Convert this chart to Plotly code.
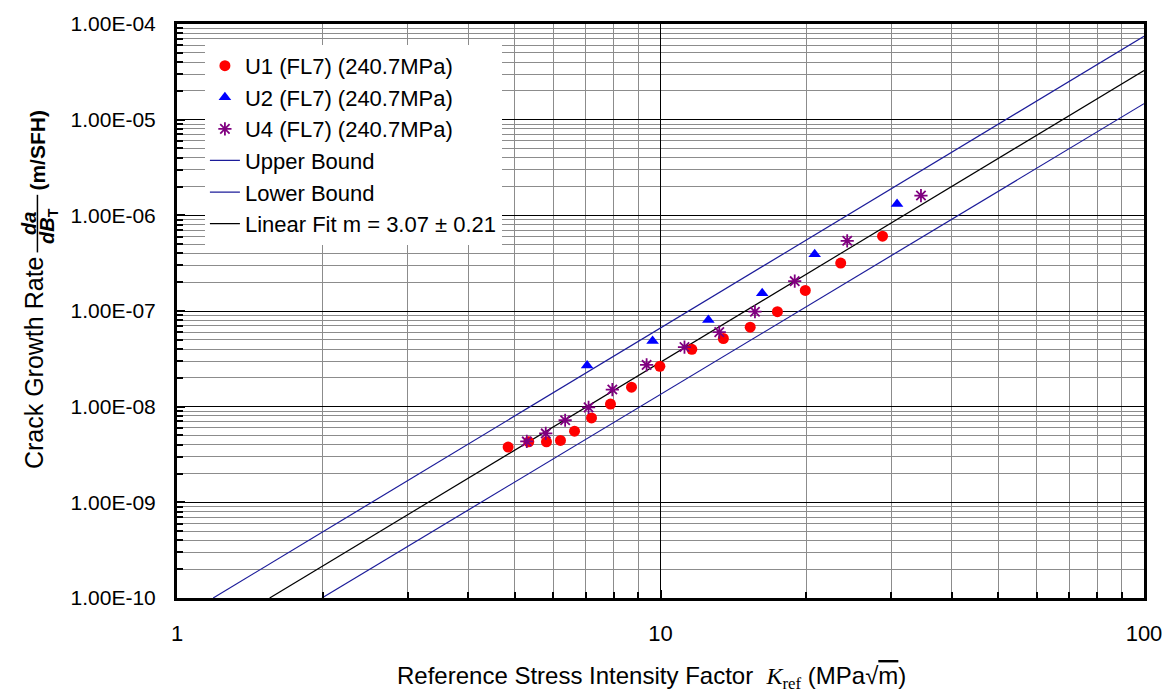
import plotly.graph_objects as go

# ---------------- data ----------------
u1_k = [4.84, 5.34, 5.81, 6.21, 6.64, 7.20, 7.88, 8.71, 9.97, 11.61, 13.49, 15.33, 17.45, 19.93, 23.59, 28.79]
u1_r = [3.78e-9, 4.29e-9, 4.29e-9, 4.44e-9, 5.54e-9, 7.62e-9, 1.065e-8, 1.60e-8, 2.64e-8, 3.98e-8,
        5.16e-8, 6.77e-8, 9.83e-8, 1.64e-7, 3.17e-7, 6.05e-7]

u2_k = [7.05, 9.63, 12.56, 16.23, 20.84, 30.85]
u2_r = [2.69e-8, 4.85e-8, 8.06e-8, 1.53e-7, 3.91e-7, 1.31e-6]

u4_k = [5.29, 5.79, 6.35, 7.10, 7.95, 9.36, 11.21, 13.23, 15.68, 18.95, 24.33, 34.57]
u4_r = [4.33e-9, 5.25e-9, 7.21e-9, 9.84e-9, 1.51e-8, 2.73e-8, 4.20e-8, 6.01e-8, 9.83e-8, 2.05e-7,
        5.42e-7, 1.61e-6]

upper_k = [1.188, 100]
upper_r = [1e-10, 7.45e-5]
lower_k = [1.994, 100]
lower_r = [1e-10, 1.47e-5]
fit_k = [1.555, 100]
fit_r = [1e-10, 3.27e-5]

series_names = ["U1 (FL7) (240.7MPa)", "U2 (FL7) (240.7MPa)", "U4 (FL7) (240.7MPa)",
                "Upper Bound", "Lower Bound", "Linear Fit m = 3.07 ± 0.21"]

x_tickvals = [1, 10, 100]
x_ticktext = ["1", "10", "100"]
y_tickvals = [1e-10, 1e-9, 1e-8, 1e-7, 1e-6, 1e-5, 1e-4]
y_ticktext = ["1.00E-10", "1.00E-09", "1.00E-08", "1.00E-07", "1.00E-06", "1.00E-05", "1.00E-04"]

x_minor = [m * d for d in (1, 10) for m in range(2, 10)]
y_minor = [m * 10.0 ** e for e in range(-10, -4) for m in range(2, 10)]

FONT = "Liberation Sans, Arial, sans-serif"
SERIF = "Liberation Serif, Times New Roman, serif"
BOUND = "#1c1c9a"

fig = go.Figure()

fig.add_trace(go.Scatter(x=upper_k, y=upper_r, mode="lines", name=series_names[3],
                         line=dict(color=BOUND, width=1.2), legendrank=4))
fig.add_trace(go.Scatter(x=lower_k, y=lower_r, mode="lines", name=series_names[4],
                         line=dict(color=BOUND, width=1.2), legendrank=5))
fig.add_trace(go.Scatter(x=fit_k, y=fit_r, mode="lines", name=series_names[5],
                         line=dict(color="#000000", width=1.2), legendrank=6))

fig.add_trace(go.Scatter(x=u1_k, y=u1_r, mode="markers", name=series_names[0],
                         marker=dict(symbol="circle", size=11, color="#ff0000"), legendrank=1))
fig.add_trace(go.Scatter(x=u2_k, y=u2_r, mode="markers", name=series_names[1],
                         marker=dict(symbol="triangle-up", size=11, color="#0000ff"), legendrank=2))
fig.add_trace(go.Scatter(x=u4_k, y=u4_r, mode="markers", name=series_names[2],
                         marker=dict(symbol="asterisk-open", size=11, color="#800080",
                                     line=dict(color="#800080", width=1.8)), legendrank=3))

L, R, T, B = 177, 27, 20, 97
W, H = 1174, 695
pw, ph = W - L - R, H - T - B


def px(xp):
    return (xp - L) / pw


def py(yp):
    return (H - B - yp) / ph


fig.update_xaxes(type="log", range=[0, 2], tickmode="array", tickvals=x_tickvals, ticktext=x_ticktext,
                 showline=True, linecolor="black", linewidth=3, mirror=True,
                 showgrid=True, gridcolor="#000000", gridwidth=1,
                 ticks="inside", ticklen=8, tickwidth=2, tickcolor="black",
                 ticklabelstandoff=14,
                 tickfont=dict(family=FONT, size=22, color="black"),
                 minor=dict(tickmode="array", tickvals=x_minor, ticks="inside", ticklen=6,
                            tickwidth=2, tickcolor="black", showgrid=True,
                            gridcolor="#8c8c8c", gridwidth=1),
                 zeroline=False)
fig.update_yaxes(type="log", range=[-10, -4], tickmode="array", tickvals=y_tickvals, ticktext=y_ticktext,
                 showline=True, linecolor="black", linewidth=3, mirror=True,
                 showgrid=True, gridcolor="#000000", gridwidth=1,
                 ticks="inside", ticklen=8, tickwidth=2, tickcolor="black",
                 ticklabelstandoff=14,
                 tickfont=dict(family=FONT, size=21, color="black"),
                 minor=dict(tickmode="array", tickvals=y_minor, ticks="inside", ticklen=6,
                            tickwidth=2, tickcolor="black", showgrid=True,
                            gridcolor="#8c8c8c", gridwidth=1),
                 zeroline=False)

annotations = [
    dict(text="Crack Growth Rate", x=px(33), y=py(361), textangle=-90,
         font=dict(family=FONT, size=25, color="black")),
    dict(text="<b>(m/SFH)</b>", x=px(37), y=py(147), textangle=-90,
         font=dict(family=FONT, size=21, color="black")),
    dict(text="<b><i>da</i></b>", x=px(28), y=py(221), textangle=-90,
         font=dict(family=FONT, size=20, color="black")),
    dict(text="<b><i>dB</i><sub>T</sub></b>", x=px(48), y=py(223), textangle=-90,
         font=dict(family=FONT, size=20, color="black")),
    dict(text="Reference Stress Intensity Factor  "
              f"<i><span style='font-family:{SERIF}'>K</span></i>"
              f"<sub><span style='font-family:{SERIF}'>ref</span></sub>"
              " (MPa√<span style='text-decoration:overline'>m</span>)",
         x=px(653), y=py(678), font=dict(family=FONT, size=24, color="black")),
]
for a in annotations:
    a.update(xref="paper", yref="paper", xanchor="center", yanchor="middle", showarrow=False)

fig.update_layout(
    width=W, height=H,
    margin=dict(l=L, r=R, t=T, b=B),
    paper_bgcolor="white", plot_bgcolor="white",
    font=dict(family=FONT, size=22, color="black"),
    showlegend=True,
    legend=dict(x=px(205), y=py(41), xanchor="left", yanchor="top",
                bgcolor="white", borderwidth=0,
                font=dict(family=FONT, size=22, color="black"),
                tracegroupgap=0, itemwidth=30),
    annotations=annotations,
    shapes=[dict(type="line", xref="paper", yref="paper", x0=px(37), x1=px(37),
                 y0=py(192), y1=py(250), line=dict(color="black", width=1.5))],
)

fig.write_html("out.html")
